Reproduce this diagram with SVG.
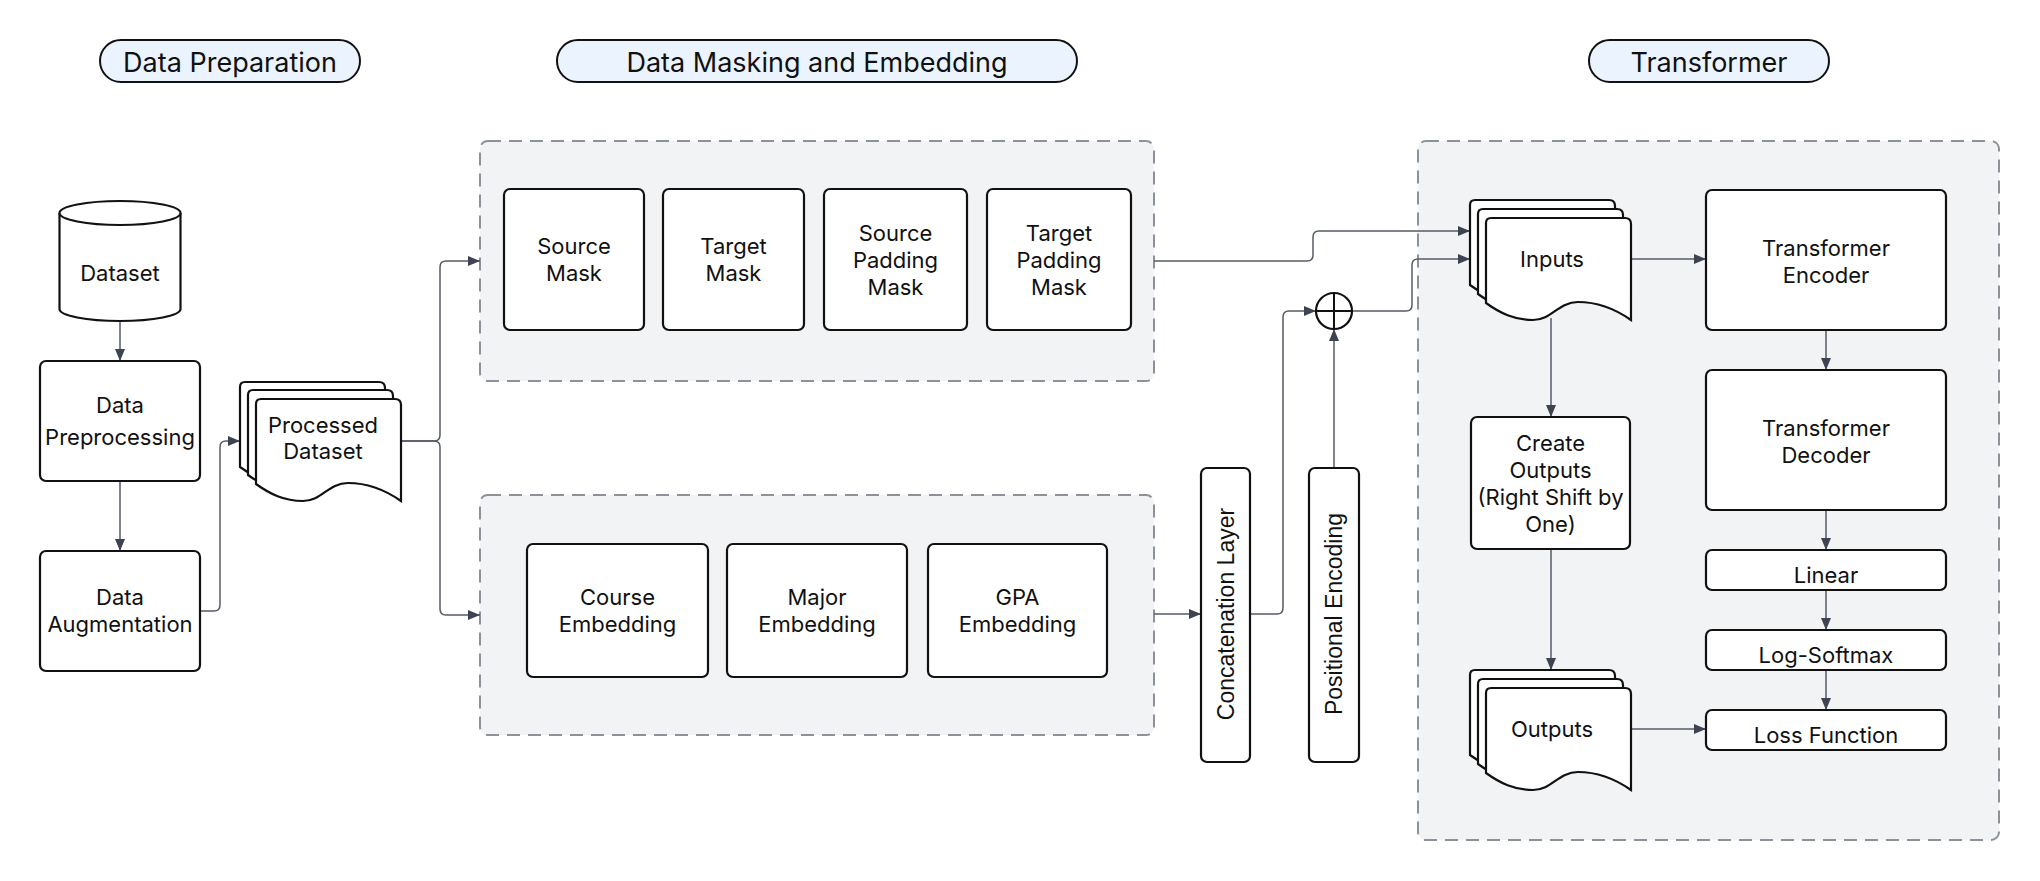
<svg xmlns="http://www.w3.org/2000/svg" xmlns:xlink="http://www.w3.org/1999/xlink" width="2040" height="881" viewBox="0 0 2040 881">
<style>
.pill{fill:#EBF4FE;stroke:#111;stroke-width:2}
.ttl{font-family:Inter,"Noto Sans",sans-serif;font-size:27px;fill:#111;text-anchor:middle}
.grp{fill:#F2F3F5;stroke:#8C919A;stroke-width:2;stroke-dasharray:13 8}
.nd{fill:#fff;stroke:#111;stroke-width:2.2}
.tx{font-family:Inter,"Noto Sans",sans-serif;font-size:22px;fill:#111;text-anchor:middle}
.rt{font-family:"Liberation Sans",Arial,sans-serif;font-size:23px;fill:#111;text-anchor:middle}
.cn{fill:none;stroke:#555B66;stroke-width:1.5;marker-end:url(#ah)}
</style>
<defs>
<marker id="ah" viewBox="0 0 12 10" refX="12" refY="5" markerWidth="12" markerHeight="10" markerUnits="userSpaceOnUse" orient="auto">
<path d="M0,0 L12,5 L0,10 Z" fill="#3D4350"/>
</marker>
<path id="doc" d="M0,85 V5 Q0,0 5,0 H139 Q145,0 145,6 V102 C125,88 108,84 92,84 C72,84 66,102 47,102 C28,102 14,95 0,85 Z"/>
</defs>
<rect width="2040" height="881" fill="#fff"/>

<g id="title-data-preparation">
<rect class="pill" x="100" y="40" width="260" height="42" rx="21"/>
<text class="ttl" x="230" y="72">Data Preparation</text>
</g>
<g id="title-data-masking">
<rect class="pill" x="557" y="40" width="520" height="42" rx="21"/>
<text class="ttl" x="817" y="72">Data Masking and Embedding</text>
</g>
<g id="title-transformer">
<rect class="pill" x="1589" y="40" width="240" height="42" rx="21"/>
<text class="ttl" x="1709" y="72">Transformer</text>
</g>

<g id="group-masking"><rect class="grp" x="480" y="141" width="674" height="240" rx="8"/></g>
<g id="group-embedding"><rect class="grp" x="480" y="495" width="674" height="240" rx="8"/></g>
<g id="group-transformer"><rect class="grp" x="1418" y="141" width="581" height="699" rx="8"/></g>

<g id="connectors">
<path class="cn" d="M120,321 V361"/>
<path class="cn" d="M120,481 V551"/>
<path class="cn" d="M200,611 H214 Q220,611 220,605 V447 Q220,441 226,441 H240"/>
<path class="cn" d="M401,441 H434 Q440,441 440,435 V267 Q440,261 446,261 H480"/>
<path class="cn" d="M401,441 H434 Q440,441 440,447 V609 Q440,615 446,615 H480"/>
<path class="cn" d="M1154,614 H1201"/>
<path class="cn" d="M1250,614 H1277 Q1283,614 1283,608 V317 Q1283,311 1289,311 H1316"/>
<path class="cn" d="M1334,468 V329"/>
<path class="cn" d="M1352,311 H1406 Q1412,311 1412,305 V265 Q1412,259 1418,259 H1470"/>
<path class="cn" d="M1154,261 H1307 Q1313,261 1313,255 V237 Q1313,231 1319,231 H1470"/>
<path class="cn" d="M1631,259 H1706"/>
<path class="cn" d="M1551,318 V417"/>
<path class="cn" d="M1551,549 V670"/>
<path class="cn" d="M1631,729 H1706"/>
<path class="cn" d="M1826,330 V370"/>
<path class="cn" d="M1826,510 V550"/>
<path class="cn" d="M1826,590 V630"/>
<path class="cn" d="M1826,670 V710"/>
</g>

<g id="dataset">
<path class="nd" d="M59.5,213 A60.5,12 0 0 1 180.5,213 V309 A60.5,12 0 0 1 59.5,309 Z"/>
<path class="nd" fill="none" d="M59.5,213 A60.5,12 0 0 0 180.5,213"/>
<text class="tx" x="120" y="281">Dataset</text>
</g>
<g id="data-preprocessing">
<rect class="nd" x="40" y="361" width="160" height="120" rx="6"/>
<text class="tx" x="120" y="413">Data</text>
<text class="tx" x="120" y="445">Preprocessing</text>
</g>
<g id="data-augmentation">
<rect class="nd" x="40" y="551" width="160" height="120" rx="6"/>
<text class="tx" x="120" y="605">Data</text>
<text class="tx" x="120" y="632">Augmentation</text>
</g>
<g id="processed-dataset">
<use href="#doc" class="nd" x="240" y="382"/>
<use href="#doc" class="nd" x="248" y="390"/>
<use href="#doc" class="nd" x="256" y="399"/>
<text class="tx" x="323" y="433">Processed</text>
<text class="tx" x="323" y="459">Dataset</text>
</g>

<g id="source-mask">
<rect class="nd" x="504" y="189" width="140" height="141" rx="6"/>
<text class="tx" x="574" y="254">Source</text>
<text class="tx" x="574" y="281">Mask</text>
</g>
<g id="target-mask">
<rect class="nd" x="663" y="189" width="141" height="141" rx="6"/>
<text class="tx" x="733.5" y="254">Target</text>
<text class="tx" x="733.5" y="281">Mask</text>
</g>
<g id="source-padding-mask">
<rect class="nd" x="824" y="189" width="143" height="141" rx="6"/>
<text class="tx" x="895.5" y="241">Source</text>
<text class="tx" x="895.5" y="268">Padding</text>
<text class="tx" x="895.5" y="295">Mask</text>
</g>
<g id="target-padding-mask">
<rect class="nd" x="987" y="189" width="144" height="141" rx="6"/>
<text class="tx" x="1059" y="241">Target</text>
<text class="tx" x="1059" y="268">Padding</text>
<text class="tx" x="1059" y="295">Mask</text>
</g>

<g id="course-embedding">
<rect class="nd" x="527" y="544" width="181" height="133" rx="6"/>
<text class="tx" x="617.5" y="605">Course</text>
<text class="tx" x="617.5" y="632">Embedding</text>
</g>
<g id="major-embedding">
<rect class="nd" x="727" y="544" width="180" height="133" rx="6"/>
<text class="tx" x="817" y="605">Major</text>
<text class="tx" x="817" y="632">Embedding</text>
</g>
<g id="gpa-embedding">
<rect class="nd" x="928" y="544" width="179" height="133" rx="6"/>
<text class="tx" x="1017.5" y="605">GPA</text>
<text class="tx" x="1017.5" y="632">Embedding</text>
</g>

<g id="concatenation-layer">
<rect class="nd" x="1201" y="468" width="49" height="294" rx="6"/>
<text class="rt" transform="translate(1233.5,614) rotate(-90)">Concatenation Layer</text>
</g>
<g id="positional-encoding">
<rect class="nd" x="1309" y="468" width="50" height="294" rx="6"/>
<text class="rt" transform="translate(1342,614) rotate(-90)">Positional Encoding</text>
</g>
<g id="add">
<circle class="nd" cx="1334" cy="311" r="18"/>
<path d="M1316,311 H1352 M1334,293 V329" stroke="#111" stroke-width="2"/>
</g>

<g id="inputs">
<use href="#doc" class="nd" x="1470" y="200"/>
<use href="#doc" class="nd" x="1478" y="209"/>
<use href="#doc" class="nd" x="1486" y="218"/>
<text class="tx" x="1552" y="267">Inputs</text>
</g>
<g id="create-outputs">
<rect class="nd" x="1471" y="417" width="159" height="132" rx="6"/>
<text class="tx" x="1550.5" y="451">Create</text>
<text class="tx" x="1550.5" y="478">Outputs</text>
<text class="tx" x="1550.5" y="505">(Right Shift by</text>
<text class="tx" x="1550.5" y="532">One)</text>
</g>
<g id="outputs">
<use href="#doc" class="nd" x="1470" y="670"/>
<use href="#doc" class="nd" x="1478" y="679"/>
<use href="#doc" class="nd" x="1486" y="688"/>
<text class="tx" x="1552" y="737">Outputs</text>
</g>
<g id="transformer-encoder">
<rect class="nd" x="1706" y="190" width="240" height="140" rx="6"/>
<text class="tx" x="1826" y="256">Transformer</text>
<text class="tx" x="1826" y="283">Encoder</text>
</g>
<g id="transformer-decoder">
<rect class="nd" x="1706" y="370" width="240" height="140" rx="6"/>
<text class="tx" x="1826" y="436">Transformer</text>
<text class="tx" x="1826" y="463">Decoder</text>
</g>
<g id="linear">
<rect class="nd" x="1706" y="550" width="240" height="40" rx="6"/>
<text class="tx" x="1826" y="583">Linear</text>
</g>
<g id="log-softmax">
<rect class="nd" x="1706" y="630" width="240" height="40" rx="6"/>
<text class="tx" x="1826" y="663">Log-Softmax</text>
</g>
<g id="loss-function">
<rect class="nd" x="1706" y="710" width="240" height="40" rx="6"/>
<text class="tx" x="1826" y="743">Loss Function</text>
</g>
</svg>
